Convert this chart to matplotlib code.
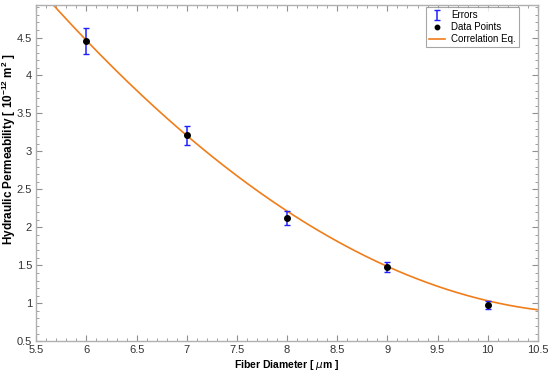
import numpy as np
import matplotlib.pyplot as plt
from matplotlib.ticker import MultipleLocator

plt.rcParams['font.family'] = ['Liberation Sans', 'DejaVu Sans']

# --- measured data ---
diam = [6, 7, 8, 9, 10]
perm = [4.45, 3.21, 2.12, 1.48, 0.98]
err = [0.17, 0.13, 0.09, 0.07, 0.05]

# points
curve_x = [5.68, 6.0, 7.0, 8.0, 9.0, 10.0, 10.5]
curve_y = [4.92, 4.45, 3.22, 2.20, 1.50, 1.02, 0.92]

coef = np.polyfit(curve_x, curve_y, 3)
xs = np.linspace(5.5, 10.5, 300)
ys = np.polyval(coef, xs)

fig = plt.figure(figsize=(5.5, 3.75), dpi=100)
ax = fig.add_axes([0.066, 0.09, 0.912, 0.897])

ax.plot(xs, ys, color='#f07d1a', lw=1.2, label='Correlation Eq.', zorder=2)
ax.errorbar(diam, perm, yerr=err, fmt='none', ecolor='#1f1fff', elinewidth=1.1,
            capsize=2.5, capthick=1.0, label='Errors', zorder=3)
ax.plot(diam, perm, 'o', color='black', ms=4, label='Data Points', zorder=4)

ax.set_xlim(5.5, 10.5)
ax.set_ylim(0.5, 4.93)
ax.xaxis.set_major_locator(MultipleLocator(0.5))
ax.xaxis.set_minor_locator(MultipleLocator(0.1))
ax.yaxis.set_major_locator(MultipleLocator(0.5))
ax.yaxis.set_minor_locator(MultipleLocator(0.1))
ax.xaxis.set_major_formatter(plt.FuncFormatter(lambda v, p: f'{v:g}'))
ax.yaxis.set_major_formatter(plt.FuncFormatter(lambda v, p: f'{v:g}'))

for s in ax.spines.values():
    s.set_color('#b0b0b0')
    s.set_linewidth(1.0)
ax.tick_params(which='both', direction='in', top=True, right=True,
               color='#909090', labelsize=8, labelcolor='#333333', pad=3)
ax.tick_params(which='major', length=4)
ax.tick_params(which='minor', length=2)

ax.set_xlabel('Fiber Diameter [ $\\mu$m ]', fontsize=7.5, fontweight='bold', labelpad=2)
ax.set_ylabel('Hydraulic Permeability [ 10$^{\\mathdefault{-12}}$ m$^{\\mathdefault{2}}$ ]',
              fontsize=8.5, fontweight='bold')
ax.yaxis.set_label_coords(-0.037, 0.57)

h, l = ax.get_legend_handles_labels()
order = [l.index('Errors'), l.index('Data Points'), l.index('Correlation Eq.')]
leg = ax.legend([h[i] for i in order], [l[i] for i in order], loc='upper right',
                bbox_to_anchor=(0.962, 0.993), fontsize=7, frameon=True, fancybox=False,
                edgecolor='#909090', handlelength=1.7, handletextpad=0.6,
                borderpad=0.3, markerscale=0.8, labelspacing=0.2, borderaxespad=0.0)
leg.get_frame().set_linewidth(0.8)

fig.savefig('out.png', dpi=100)
